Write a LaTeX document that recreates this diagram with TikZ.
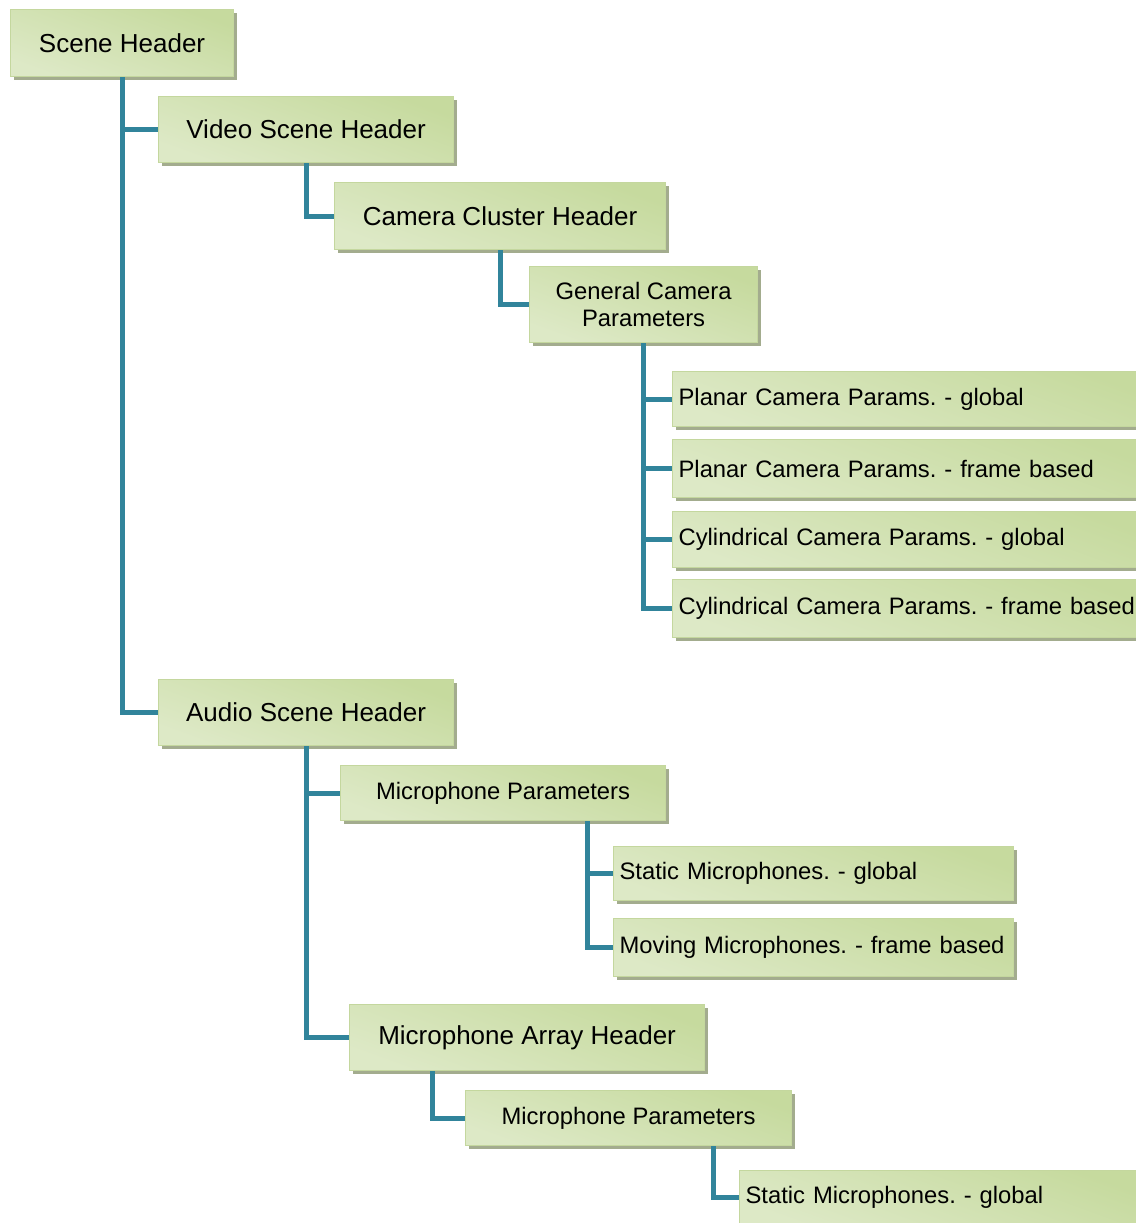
\documentclass[tikz,border=0pt]{standalone}
\usepackage{fontspec}
\setmainfont{Liberation Sans}
\usetikzlibrary{shadows}

\definecolor{linkc}{RGB}{49,132,155}
\definecolor{boxgreen}{RGB}{198,218,158}
\definecolor{boxlight}{RGB}{240,245,231}
\definecolor{boxline}{RGB}{196,215,158}
\definecolor{shadowc}{RGB}{163,172,142}

\tikzset{
  hbox/.style={draw=boxline, line width=1.2pt,
    top color=boxgreen, middle color=boxlight, bottom color=boxgreen!45!boxlight,
    shading angle=-20,
    drop shadow={shadow xshift=3.5pt, shadow yshift=-3.5pt, opacity=1, fill=shadowc},
    anchor=north west, inner sep=0pt, text=black},
  bigtxt/.style={font=\fontsize{26}{30}\selectfont, align=center},
  smalltxt/.style={font=\fontsize{23.8}{27}\selectfont, align=center},
  lefttxt/.style={font=\fontsize{23.8}{27}\selectfont, align=left, inner xsep=6pt},
  link/.style={draw=linkc, line width=5pt, line join=miter},
}

\frenchspacing
\begin{document}
\begin{tikzpicture}[x=1pt, y=-1pt]
\useasboundingbox (0,0) rectangle (1135,1223);

% header boxes
\node[hbox, bigtxt, minimum width=223pt, minimum height=67pt] (scene) at (10,9) {Scene Header};
\node[hbox, bigtxt, minimum width=295pt, minimum height=66pt] (video) at (158,96) {Video Scene Header};
\node[hbox, bigtxt, minimum width=331pt, minimum height=67pt] (camera) at (334,182) {Camera Cluster Header};
\node[hbox, smalltxt, minimum width=228pt, minimum height=76pt] (general) at (529,266) {General Camera\\Parameters};

% camera parameter blocks
\node[hbox, lefttxt, text width=470pt, minimum height=55pt] (pg) at (672,371) {\mbox{Planar Camera Params. - global}};
\node[hbox, lefttxt, text width=470pt, minimum height=58pt] (pf) at (672,439) {\mbox{Planar Camera Params. - frame based}};
\node[hbox, lefttxt, text width=470pt, minimum height=56pt] (cg) at (672,511) {\mbox{Cylindrical Camera Params. - global}};
\node[hbox, lefttxt, text width=470pt, minimum height=58pt] (cf) at (672,579) {\mbox{Cylindrical Camera Params. - frame based}};

% audio branch
\node[hbox, bigtxt, minimum width=295pt, minimum height=66pt] (audio) at (158,679) {Audio Scene Header};
\node[hbox, smalltxt, minimum width=325pt, minimum height=55pt] (micp) at (340,765) {Microphone Parameters};
\node[hbox, lefttxt, text width=388pt, minimum height=54pt] (smg) at (613,846) {\mbox{Static Microphones. - global}};
\node[hbox, lefttxt, text width=388pt, minimum height=58pt] (mmf) at (613,918) {\mbox{Moving Microphones. - frame based}};
\node[hbox, bigtxt, minimum width=355pt, minimum height=66pt] (array) at (349,1004) {Microphone Array Header};
\node[hbox, smalltxt, minimum width=326pt, minimum height=55pt] (micp2) at (465,1090) {Microphone Parameters};
\node[hbox, lefttxt, text width=388pt, minimum height=54pt] (smg2) at (739,1170) {\mbox{Static Microphones. - global}};

% connectors
\draw[link] (scene.south) |- (video.west);
\draw[link] (scene.south) |- (audio.west);
\draw[link] (video.south) |- (camera.west);
\draw[link] (camera.south) |- (general.west);
\draw[link] (general.south) |- (pg.west);
\draw[link] (general.south) |- (pf.west);
\draw[link] (general.south) |- (cg.west);
\draw[link] (general.south) |- (cf.west);
\draw[link] (audio.south) |- (micp.west);
\draw[link] (audio.south) |- (array.west);
\draw[link] ([xshift=84pt]micp.south) |- (smg.west);
\draw[link] ([xshift=84pt]micp.south) |- (mmf.west);
\draw[link] ([xshift=-94.5pt]array.south) |- (micp2.west);
\draw[link] ([xshift=85pt]micp2.south) |- (smg2.west);
\end{tikzpicture}
\end{document}
